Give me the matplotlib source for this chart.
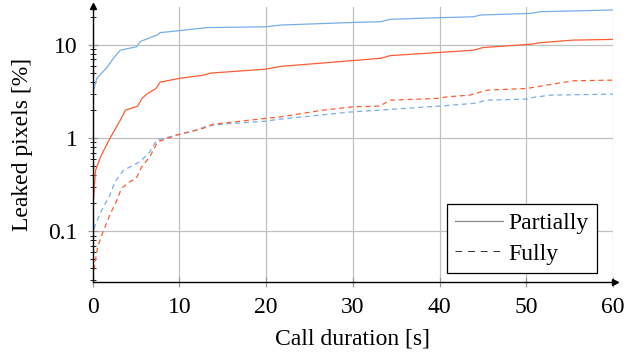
import matplotlib.pyplot as plt
from matplotlib.lines import Line2D

plt.rcParams['font.family'] = ['Liberation Serif', 'DejaVu Serif']
plt.rcParams['font.size'] = 17

# Partially leaked (solid lines)
part_blue_x = [0, 0.5, 1.7, 2.4, 3.2, 5.1, 5.5, 7.5, 7.8, 10.1, 13.2, 19.9, 21.7,
               30.1, 33.2, 34.3, 40.1, 43.9, 44.7, 50.5, 51.6, 60]
part_blue_y = [3.0, 4.4, 5.8, 7.2, 8.8, 9.6, 10.9, 12.9, 13.6, 14.3, 15.4, 15.7, 16.4,
               17.5, 17.8, 18.9, 19.7, 20.1, 21.0, 21.9, 22.8, 23.8]
part_red_x = [0, 0.35, 0.9, 1.3, 2.1, 3.2, 3.8, 5.2, 5.7, 6.3, 7.3, 7.8, 10.1, 12.8,
              13.6, 19.9, 21.7, 33.2, 34.3, 43.9, 45.0, 50.5, 51.6, 55.4, 60]
part_red_y = [0.16, 0.45, 0.62, 0.74, 1.03, 1.56, 2.0, 2.2, 2.67, 3.0, 3.4, 4.0, 4.4, 4.75,
              5.0, 5.5, 5.9, 7.2, 7.7, 8.8, 9.4, 10.2, 10.6, 11.3, 11.5]

# Fully leaked (dashed lines)
full_blue_x = [0.03, 0.29, 1.06, 2.0, 2.6, 3.55, 4.3, 5.5, 6.6, 7.4, 9.7, 12.0, 13.2,
               14.7, 19.9, 21.6, 30.0, 33.1, 35.8, 40.0, 43.9, 45.5, 50.1, 50.8, 52.8, 60]
full_blue_y = [0.086, 0.116, 0.168, 0.244, 0.34, 0.45, 0.49, 0.56, 0.71, 0.95, 1.08, 1.22, 1.35,
               1.41, 1.52, 1.60, 1.92, 2.0, 2.08, 2.21, 2.36, 2.56, 2.63, 2.74, 2.90, 2.97]
full_red_x = [0, 0.27, 0.6, 1.2, 2.0, 2.8, 3.35, 4.3, 5.05, 5.65, 6.6, 7.5, 9.7, 12.7,
              13.9, 19.9, 21.6, 26.6, 30.0, 33.1, 34.3, 39.7, 40.9, 43.5, 45.5, 50.1,
              52.4, 55.4, 60]
full_red_y = [0.031, 0.045, 0.068, 0.098, 0.15, 0.215, 0.29, 0.34, 0.37, 0.49, 0.63, 0.91,
              1.08, 1.27, 1.41, 1.63, 1.69, 2.0, 2.17, 2.21, 2.56, 2.67, 2.78, 2.90, 3.28,
              3.42, 3.72, 4.13, 4.2]

blue = '#78aee8'
red = '#ff5c33'

fig = plt.figure(figsize=(6.25, 3.52), dpi=100)
ax = fig.add_axes([0.148, 0.198, 0.833, 0.782])

ax.plot(part_blue_x, part_blue_y, color=blue, lw=0.9)
ax.plot(part_red_x, part_red_y, color=red, lw=0.9)
ax.plot(full_blue_x, full_blue_y, color=blue, lw=0.9, dashes=(4, 3))
ax.plot(full_red_x, full_red_y, color=red, lw=0.9, dashes=(4, 3))

ax.set_yscale('log')
ax.set_xlim(0, 60)
ax.set_ylim(0.0283, 25.6)
ax.set_xticks([0, 10, 20, 30, 40, 50, 60])
ax.set_yticks([0.1, 1, 10])
ax.set_yticklabels(['0.1', '1', '10'])
ax.grid(True, which='major', color='#c0c0c0', lw=0.9)
ax.tick_params(which='major', direction='inout', length=7, color='#999999', width=0.9, pad=7)
ax.tick_params(axis='y', which='minor', direction='inout', length=5, color='black', width=0.6)

for s in ['top', 'right']:
    ax.spines[s].set_visible(False)
for s in ['left', 'bottom']:
    ax.spines[s].set_linewidth(1.0)
ax.plot(1.004, 0, marker='>', color='black', ms=5, transform=ax.transAxes, clip_on=False)
ax.plot(0, 1.004, marker='^', color='black', ms=5, transform=ax.transAxes, clip_on=False)

ax.set_xlabel('Call duration [s]', labelpad=8)
ax.set_ylabel('Leaked pixels [%]', labelpad=11)

handles = [Line2D([], [], color='#888888', lw=0.9),
           Line2D([], [], color='#333333', lw=0.7, dashes=(7, 6))]
leg = ax.legend(handles, ['Partially', 'Fully'], loc='lower right',
                bbox_to_anchor=(0.969, 0.034), fancybox=False, framealpha=1,
                edgecolor='black', handlelength=2.0, borderpad=0.35,
                labelspacing=0.38, handletextpad=0.25, borderaxespad=0)
leg.get_frame().set_linewidth(0.9)

fig.savefig('out.png', dpi=100)
